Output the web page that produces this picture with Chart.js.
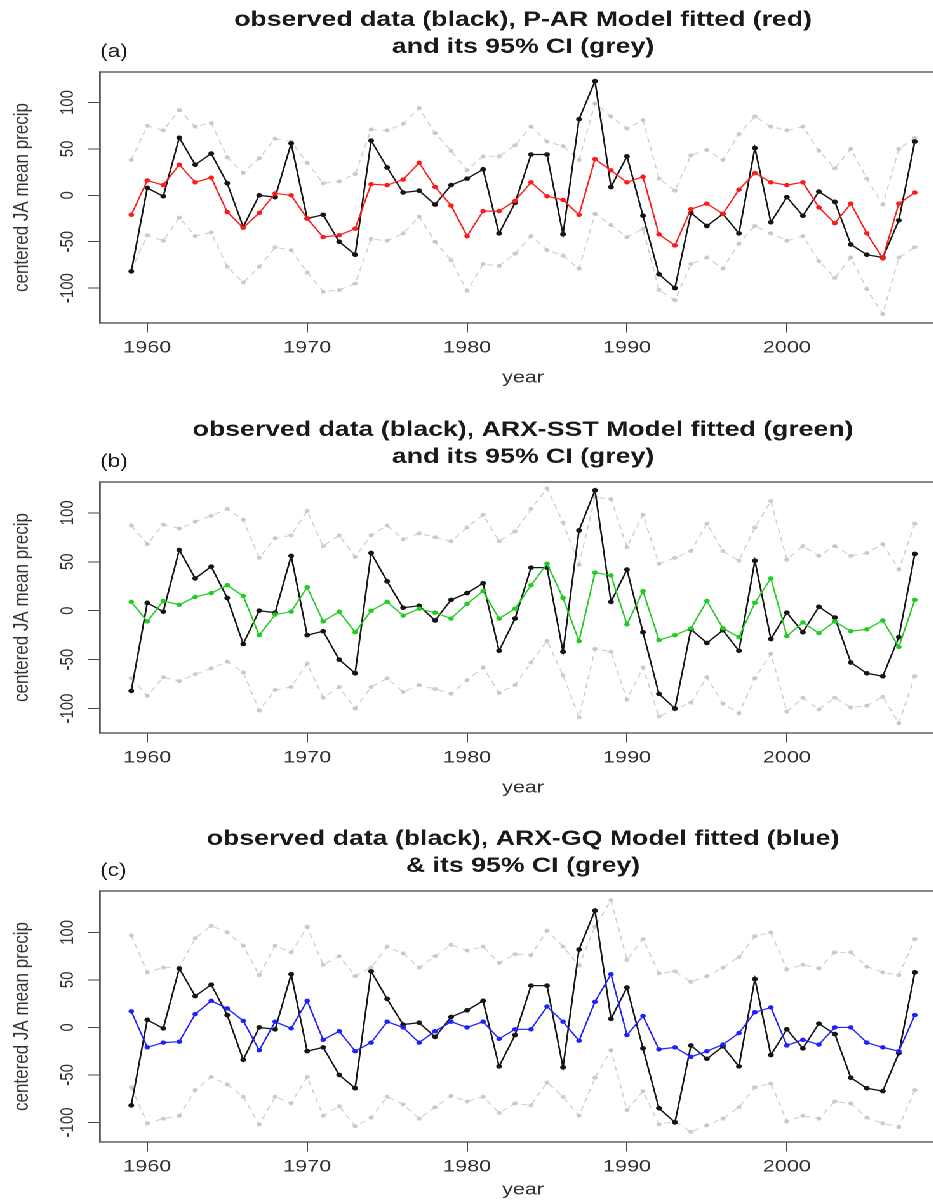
<!DOCTYPE html>
<html>
<head>
<meta charset="utf-8">
<title>Observed vs fitted JA precipitation</title>
<script src="https://cdn.jsdelivr.net/npm/chart.js@4.4.1/dist/chart.umd.min.js"></script>
<style>
  html, body { margin: 0; padding: 0; background: #fff; width: 933px; height: 1200px; overflow: hidden; }
  /* the source figure is stretched horizontally, so draw at native width and stretch */
  #wrap { position: absolute; left: 0; top: 0; width: 790px; height: 1220px; transform: scaleX(1.27); transform-origin: 0 0; }
  .panel { position: absolute; left: 0; width: 790px; height: 400px; }
</style>
</head>
<body>
<div id="wrap">
  <div class="panel" style="top:0px"><canvas id="panel-a"></canvas></div>
  <div class="panel" style="top:410px"><canvas id="panel-b"></canvas></div>
  <div class="panel" style="top:819px"><canvas id="panel-c"></canvas></div>
</div>

<script>
// ── Data ──
const years = [1959, 1960, 1961, 1962, 1963, 1964, 1965, 1966, 1967, 1968,
               1969, 1970, 1971, 1972, 1973, 1974, 1975, 1976, 1977, 1978,
               1979, 1980, 1981, 1982, 1983, 1984, 1985, 1986, 1987, 1988,
               1989, 1990, 1991, 1992, 1993, 1994, 1995, 1996, 1997, 1998,
               1999, 2000, 2001, 2002, 2003, 2004, 2005, 2006, 2007, 2008];

const observed = [-82, 8, -1, 62, 33, 45, 13, -34, 0, -2,
                  56, -25, -21, -50, -64, 59, 30, 3, 5, -10,
                  11, 18, 28, -41, -8, 44, 44, -42, 82, 123,
                  9, 42, -22, -85, -100, -19, -33, -20, -41, 51,
                  -29, -2, -22, 4, -7, -53, -64, -67, -27, 58];

// (a) P-AR
const parFit = [-21, 16, 11, 33, 14, 19, -18, -35, -19, 2,
                0, -25, -45, -43, -36, 12, 11, 17, 35, 9,
                -11, -44, -17, -17, -6, 14, -1, -5, -21, 39,
                27, 14, 20, -42, -54, -15, -9, -20, 6, 24,
                14, 11, 14, -13, -30, -9, -41, -68, -9, 3];
const parUpper = [38, 75, 70, 92, 74, 78, 41, 24, 40, 61,
                  58, 35, 13, 15, 23, 71, 70, 77, 94, 67,
                  48, 27, 42, 42, 54, 74, 58, 53, 38, 99,
                  85, 72, 81, 18, 5, 43, 49, 38, 66, 85,
                  74, 70, 74, 48, 29, 50, 18, -10, 50, 62];
const parLower = [-81, -43, -49, -24, -44, -40, -77, -94, -77, -56,
                  -59, -83, -104, -102, -95, -47, -49, -41, -23, -50,
                  -70, -103, -74, -76, -63, -44, -59, -65, -79, -20,
                  -32, -45, -36, -102, -113, -74, -67, -79, -52, -33,
                  -41, -49, -44, -71, -89, -67, -101, -128, -67, -56];

// (b) ARX-SST
const sstFit = [9, -11, 10, 6, 14, 18, 26, 15, -25, -4,
                -1, 24, -11, -1, -22, 0, 9, -5, 2, -2,
                -8, 7, 20, -8, 2, 26, 48, 13, -31, 39,
                36, -14, 20, -30, -25, -18, 10, -18, -27, 8,
                33, -26, -12, -23, -11, -21, -19, -10, -37, 11];
const sstUpper = [87, 68, 88, 84, 91, 97, 104, 93, 54, 74,
                  77, 102, 66, 77, 55, 77, 87, 73, 79, 75,
                  71, 85, 98, 71, 81, 104, 125, 90, 47, 116,
                  114, 65, 98, 48, 54, 61, 89, 61, 51, 85,
                  112, 52, 66, 56, 66, 56, 59, 68, 42, 89];
const sstLower = [-69, -87, -68, -72, -65, -59, -52, -63, -102, -81,
                  -78, -54, -89, -78, -100, -78, -69, -83, -76, -80,
                  -85, -71, -58, -84, -76, -53, -31, -66, -109, -39,
                  -42, -91, -58, -108, -101, -94, -68, -95, -105, -69,
                  -44, -103, -89, -101, -89, -99, -97, -88, -115, -67];

// (c) ARX-GQ
const gqFit = [17, -21, -16, -15, 14, 28, 20, 7, -24, 6,
               -1, 28, -13, -4, -25, -16, 6, 0, -16, -4,
               6, 0, 6, -12, -2, -2, 22, 6, -14, 27,
               56, -8, 12, -23, -21, -31, -25, -18, -6, 16,
               21, -19, -13, -18, 0, 0, -16, -21, -25, 13];
const gqUpper = [97, 58, 63, 63, 94, 107, 100, 86, 55, 86,
                 79, 106, 66, 75, 54, 63, 85, 78, 63, 75,
                 87, 81, 85, 68, 77, 76, 102, 85, 65, 106,
                 134, 71, 93, 57, 59, 48, 54, 63, 74, 96,
                 100, 61, 66, 62, 79, 79, 64, 58, 55, 93];
const gqLower = [-63, -101, -96, -93, -66, -52, -60, -73, -102, -73,
                 -80, -52, -93, -83, -104, -95, -73, -81, -96, -84,
                 -72, -78, -73, -90, -80, -82, -58, -73, -93, -53,
                 -24, -87, -67, -102, -99, -110, -103, -96, -84, -63,
                 -59, -99, -93, -96, -78, -80, -95, -101, -105, -66];

const xTicks = [1960, 1970, 1980, 1990, 2000];
const yTicks = [-100, -50, 0, 50, 100];

// ── Shared look ──
const FONT = '"Liberation Sans", Arial, Helvetica, sans-serif';
const INK = '#333333';
const CI_GREY = 'rgba(185,185,185,0.7)';

const pairs = vals => years.map((yr, i) => ({ x: yr, y: vals[i] }));

// frame box + two-line bold title + panel tag
const frameAndTitles = {
  id: 'frameAndTitles',
  afterDatasetsDraw(chart) {
    const { ctx, chartArea: a } = chart;
    ctx.save();
    ctx.strokeStyle = '#555555';
    ctx.lineWidth = 1.4;
    ctx.strokeRect(a.left, a.top, a.right - a.left, a.bottom - a.top);
    ctx.restore();
  },
  afterDraw(chart, args, opts) {
    const { ctx, chartArea: a } = chart;
    const cx = (a.left + a.right) / 2;
    ctx.save();
    ctx.fillStyle = '#1a1a1a';
    ctx.textAlign = 'center';
    ctx.textBaseline = 'middle';
    ctx.font = 'bold 21px ' + FONT;
    ctx.fillText(opts.lines[0], cx, a.top - 52);
    ctx.fillText(opts.lines[1], cx, a.top - 25);
    ctx.textAlign = 'left';
    ctx.font = '18px ' + FONT;
    ctx.fillText(opts.tag, a.left, a.top - 20);
    ctx.restore();
  }
};

function lineSet(label, vals, color, opts = {}) {
  return Object.assign({
    label,
    data: pairs(vals),
    borderColor: color,
    backgroundColor: color,
    pointBackgroundColor: color,
    pointBorderWidth: 0,
    pointRadius: 2.2,
    borderWidth: 1.2,
    tension: 0,
    fill: false
  }, opts);
}

function renderPanel(id, cfg) {
  const canvas = document.getElementById(id);
  canvas.width = 790;
  canvas.height = 400;
  canvas.style.width = '790px';
  canvas.style.height = '400px';

  new Chart(canvas, {
    type: 'line',
    data: {
      datasets: [
        lineSet('fitted', cfg.fit, cfg.color, { borderWidth: 1.2 }),
        lineSet('observed', observed, '#151515', { borderWidth: 1.3, pointRadius: 2.3 }),
        lineSet('upper 95% CI', cfg.upper, CI_GREY, { borderWidth: 1, borderDash: [5, 4], pointRadius: 2 }),
        lineSet('lower 95% CI', cfg.lower, CI_GREY, { borderWidth: 1, borderDash: [5, 4], pointRadius: 2 })
      ]
    },
    options: {
      responsive: false,
      devicePixelRatio: 2,
      animation: false,
      events: [],
      layout: { padding: { top: 72, left: 0, right: 45, bottom: 0 } },
      plugins: {
        legend: { display: false },
        tooltip: { enabled: false },
        frameAndTitles: { lines: cfg.title, tag: cfg.tag }
      },
      scales: {
        x: {
          type: 'linear',
          min: 1957.04,
          max: 2009.96,
          afterBuildTicks: s => { s.ticks = xTicks.map(v => ({ value: v })); },
          afterFit: s => { s.height = 77; },
          border: { display: false },
          grid: { display: true, drawOnChartArea: false, drawTicks: true, tickLength: 9.5, color: '#444444', lineWidth: 1 },
          ticks: {
            autoSkip: false, maxRotation: 0, padding: 5,
            color: INK, font: { family: FONT, size: 17 },
            callback: v => String(v)
          },
          title: {
            display: true, text: 'year', color: INK,
            font: { family: FONT, size: 17 },
            padding: { top: 0, bottom: cfg.yearPad }
          }
        },
        y: {
          type: 'linear',
          min: cfg.yMin,
          max: cfg.yMax,
          afterBuildTicks: s => { s.ticks = yTicks.map(v => ({ value: v })); },
          afterFit: s => { s.width = 78.7; },
          border: { display: false },
          grid: { display: true, drawOnChartArea: false, drawTicks: true, tickLength: 9.5, color: '#444444', lineWidth: 1 },
          ticks: {
            minRotation: 90, maxRotation: 90, crossAlign: 'center', padding: 1,
            color: INK, font: { family: FONT, size: 15 },
            callback: v => String(v)
          },
          title: {
            display: true, text: 'centered JA mean precip', color: INK,
            font: { family: FONT, size: 17 },
            padding: { top: 7, bottom: 0 }
          }
        }
      }
    },
    plugins: [frameAndTitles]
  });
}

renderPanel('panel-a', {
  fit: parFit, upper: parUpper, lower: parLower, color: '#ff1a1a',
  title: ['observed data (black), P-AR Model fitted (red)', 'and its 95% CI (grey)'],
  tag: '(a)', yMin: -137.6, yMax: 132.9, yearPad: 12
});

renderPanel('panel-b', {
  fit: sstFit, upper: sstUpper, lower: sstLower, color: '#22cc22',
  title: ['observed data (black), ARX-SST Model fitted (green)', 'and its 95% CI (grey)'],
  tag: '(b)', yMin: -125, yMax: 131.5, yearPad: 12
});

renderPanel('panel-c', {
  fit: gqFit, upper: gqUpper, lower: gqLower, color: '#2020ff',
  title: ['observed data (black), ARX-GQ Model fitted (blue)', '& its 95% CI (grey)'],
  tag: '(c)', yMin: -120.6, yMax: 143.6, yearPad: 19
});
</script>
</body>
</html>
